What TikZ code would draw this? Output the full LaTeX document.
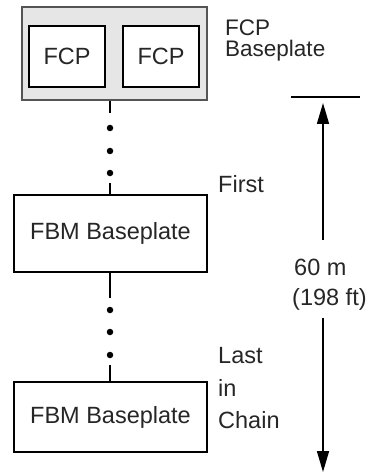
\documentclass[tikz,border=0pt]{standalone}
\usepackage{fontspec}
\setmainfont{Liberation Sans}
\usetikzlibrary{arrows.meta}
\definecolor{txt}{HTML}{262626}
\definecolor{panel}{HTML}{E6E6E6}
\definecolor{panelline}{HTML}{555555}
\begin{document}
\begin{tikzpicture}[x=1pt,y=-1pt,
  font=\fontsize{23.5}{28}\selectfont,
  every node/.style={text=txt},
  plate/.style={draw=black,line width=2pt,fill=white,inner sep=0pt,minimum width=193pt},
  fcpbox/.style={draw=black,line width=2pt,fill=white,inner sep=0pt,minimum width=76pt,minimum height=61pt},
  link/.style={line width=2.5pt},
  chaindot/.style={circle,fill=black,inner sep=0pt,minimum size=6.5pt},
  lbl/.style={anchor=base west,inner sep=0pt},
  dim/.style={line width=1.6pt,-{Triangle[length=21pt,width=12pt]}}]
\useasboundingbox (0,0) rectangle (368,473);
% FCP baseplate
\node[draw=panelline,line width=2pt,fill=panel,minimum width=185pt,minimum height=93pt,inner sep=0pt] (fcpbase) at (114.5,53.5) {};
\node[fcpbox] (fcpa) at (67,56.5) {FCP};
\node[fcpbox] (fcpb) at (161,56.5) {FCP};
% FBM baseplates
\node[plate,minimum height=77pt] (fbma) at (110.5,233.5) {FBM Baseplate};
\node[plate,minimum height=70pt] (fbmb) at (110.5,417) {FBM Baseplate};
% chain dots
\node[chaindot] (d1) at (110,128) {};
\node[chaindot] (d2) at (110,151) {};
\node[chaindot] (d3) at (110,173) {};
\node[chaindot] (d4) at (110,310) {};
\node[chaindot] (d5) at (110,332) {};
\node[chaindot] (d6) at (110,355) {};
\coordinate (s1) at (110,113);
\coordinate (s2) at (110,183);
\coordinate (s3) at (110,298);
\coordinate (s4) at (110,365);
\draw[link] (fcpbase.south -| s1) -- (s1);
\draw[link] (s2) -- (fbma.north -| s2);
\draw[link] (fbma.south -| s3) -- (s3);
\draw[link] (s4) -- (fbmb.north -| s4);
% labels
\node[lbl,align=left,font=\fontsize{22.5}{21}\selectfont] (lfcp) at (225,57) {FCP\\Baseplate};
\node[lbl] (lfirst) at (218,192) {First};
\node[lbl] (llast) at (218,363) {Last};
\node[lbl] (lin) at (218,396) {in};
\node[lbl] (lchain) at (218,428) {Chain};
\node[lbl] (l60) at (294,275) {60 m};
\node[lbl] (lft) at (292,305) {(198 ft)};
% dimension
\coordinate (barl) at (291,97);
\coordinate (barr) at (360,97);
\draw[line width=2pt] (barl) -- (barr);
\coordinate (upstart) at (323,240);
\coordinate (uptip) at (323,103);
\coordinate (dnstart) at (323,318);
\coordinate (dntip) at (323,472);
\draw[dim] (upstart) -- (uptip);
\draw[dim] (dnstart) -- (dntip);
\end{tikzpicture}
\end{document}
